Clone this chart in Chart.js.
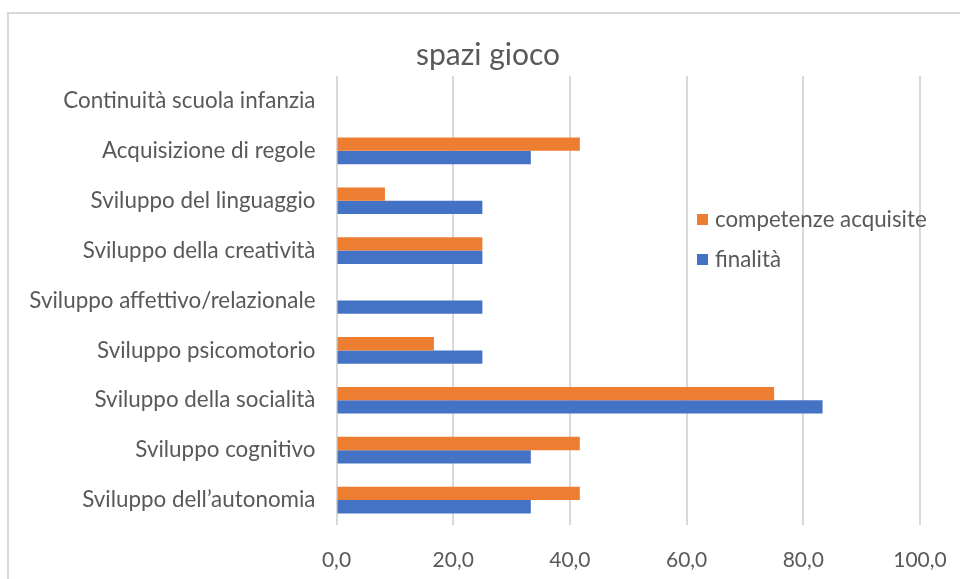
<!DOCTYPE html>
<html>
<head>
<meta charset="utf-8">
<script src="https://cdn.jsdelivr.net/npm/chart.js@4.4.1/dist/chart.umd.min.js"></script>
<style>
    body { margin: 0; background: #fff; overflow: hidden; }
    #frame {
        position: absolute; left: 7px; top: 12px;
        width: 1000px; height: 620px;
        border: 2px solid #d9d9d9; background: #fff;
    }
    #wrap { position: absolute; left: 0; top: 0; width: 960px; height: 579px; }
</style>
</head>
<body>
<div id="frame"></div>
<div id="wrap"><canvas id="chart" width="960" height="579"></canvas></div>
<script>
const chartTitle = "spazi gioco";
const categories = [
    "Continuità scuola infanzia",
    "Acquisizione di regole",
    "Sviluppo del linguaggio",
    "Sviluppo della creatività",
    "Sviluppo affettivo/relazionale",
    "Sviluppo psicomotorio",
    "Sviluppo della socialità",
    "Sviluppo cognitivo",
    "Sviluppo dell\u2019autonomia"
];
const competenze = [0, 41.7, 8.3, 25.0, 0, 16.7, 75.0, 41.7, 41.7];
const finalita = [0, 33.3, 25.0, 25.0, 25.0, 25.0, 83.3, 33.3, 33.3];
const seriesNames = ["competenze acquisite", "finalità"];
const xTicks = [0, 20, 40, 60, 80, 100];

const FONT = "Lato";
const TEXT = "#595959";

// title is centred on the whole chart box (which runs past the right edge),
// and the legend sits inside the plot area, like the original
const boxDecor = {
    id: 'boxDecor',
    afterDatasetsDraw(chart) {
        const ctx = chart.ctx;
        ctx.save();
        ctx.fillStyle = TEXT;
        ctx.textAlign = 'center';
        ctx.textBaseline = 'middle';
        ctx.font = `30px ${FONT}`;
        ctx.fillText(chartTitle, 488, 55);

        ctx.textAlign = 'left';
        ctx.font = `22.3px ${FONT}`;
        chart.data.datasets.forEach((ds, i) => {
            const y = 219.5 + i * 40;
            ctx.fillStyle = ds.backgroundColor;
            ctx.fillRect(697, y - 5.5, 11, 11);
            ctx.fillStyle = TEXT;
            ctx.fillText(ds.label, 715, y);
        });
        ctx.restore();
    }
};

new Chart(document.getElementById('chart'), {
    type: 'bar',
    data: {
        labels: categories,
        datasets: [
            { label: seriesNames[0], data: competenze, backgroundColor: '#ED7D31' },
            { label: seriesNames[1], data: finalita, backgroundColor: '#4472C4' }
        ]
    },
    options: {
        indexAxis: 'y',
        responsive: false,
        animation: false,
        barPercentage: 1,
        categoryPercentage: 0.535,
        layout: { padding: { left: 0, right: 40, top: 76, bottom: 0 } },
        plugins: {
            legend: { display: false },
            tooltip: { enabled: false },
            title: { display: false }
        },
        scales: {
            x: {
                min: 0, max: 100,
                afterBuildTicks: axis => { axis.ticks = xTicks.map(v => ({ value: v })); },
                afterFit: axis => {
                    axis.height = 54;
                    axis.paddingLeft = 0;
                    axis.paddingRight = 0;
                },
                border: { display: false },
                grid: { color: '#d9d9d9', lineWidth: 2, drawTicks: false },
                ticks: {
                    color: TEXT,
                    padding: 23,
                    font: { family: FONT, size: 21 },
                    callback: v => v.toFixed(1).replace('.', ',')
                }
            },
            y: {
                border: { display: false },
                grid: { display: false, drawTicks: false },
                afterFit: axis => {
                    axis.width = 336.5;
                    axis.paddingTop = 0;
                    axis.paddingBottom = 0;
                },
                ticks: {
                    color: TEXT,
                    padding: 21,
                    font: { family: FONT, size: 22.4 }
                }
            }
        }
    },
    plugins: [boxDecor]
});
</script>
</body>
</html>
